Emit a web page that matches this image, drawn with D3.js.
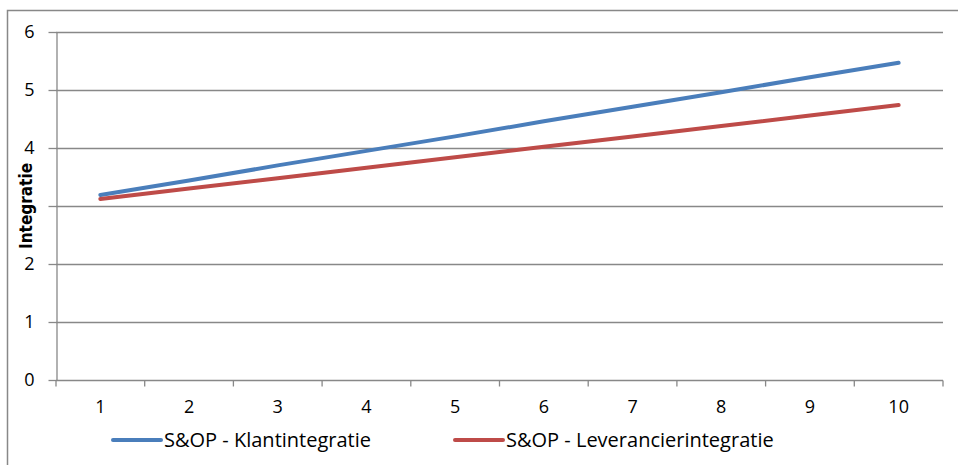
<!DOCTYPE html>
<html>
<head>
<meta charset="utf-8">
<script src="https://cdn.jsdelivr.net/npm/d3@7"></script>
<style>
  body { margin: 0; background: #fff; }
  svg { display: block; }
</style>
</head>
<body>
<div id="chart"></div>
<script>
// chart data
const categories = ['1', '2', '3', '4', '5', '6', '7', '8', '9', '10'];
const klantValues = [3.19, 3.44, 3.70, 3.95, 4.20, 4.46, 4.71, 4.96, 5.22, 5.47];
const leverancierValues = [3.12, 3.30, 3.48, 3.66, 3.84, 4.02, 4.20, 4.38, 4.56, 4.74];
const yTicks = [0, 1, 2, 3, 4, 5, 6];
const seriesNames = ['S&OP - Klantintegratie', 'S&OP - Leverancierintegratie'];
const yLabel = 'Integratie';

const width = 958, height = 465;
const margin = {left: 56, right: 15, top: 32, bottom: 85};
const gridColor = '#888888';
const colors = ['#4a7ebb', '#be4b48'];
const font = "'Open Sans', 'Liberation Sans', sans-serif";

const svg = d3.select('#chart').append('svg')
  .attr('width', width).attr('height', height);

// outer chart border
svg.append('rect')
  .attr('x', 7.5).attr('y', 10.5)
  .attr('width', 1000).attr('height', 1000)
  .attr('fill', 'none').attr('stroke', gridColor).attr('stroke-width', 1.5);

const x = d3.scaleBand().domain(categories)
  .range([margin.left, width - margin.right]);
const y = d3.scaleLinear().domain([0, 6])
  .range([height - margin.bottom, margin.top]);

// horizontal gridlines
svg.append('g')
  .selectAll('line')
  .data(yTicks.filter(d => d > 0))
  .join('line')
  .attr('x1', margin.left).attr('x2', width - margin.right)
  .attr('y1', d => Math.round(y(d)) + 0.5).attr('y2', d => Math.round(y(d)) + 0.5)
  .attr('stroke', gridColor).attr('stroke-width', 1.3);

// y axis
const yAxis = svg.append('g')
  .attr('transform', `translate(${margin.left + 0.5},0)`)
  .call(d3.axisLeft(y).tickValues(yTicks).tickFormat(d3.format('d'))
    .tickSize(8).tickPadding(14).tickSizeOuter(0));
yAxis.select('.domain').attr('stroke', gridColor).attr('stroke-width', 1.3);
yAxis.selectAll('.tick line').attr('stroke', gridColor).attr('stroke-width', 1.3);
yAxis.selectAll('.tick text')
  .attr('font-family', font).attr('font-size', 18).attr('fill', '#000');

// x axis with ticks at band boundaries
const xAxisG = svg.append('g')
  .attr('transform', `translate(0,${Math.round(y(0)) + 0.5})`);
xAxisG.append('line')
  .attr('x1', margin.left).attr('x2', width - margin.right)
  .attr('stroke', gridColor).attr('stroke-width', 1.3);
const bounds = categories.map(c => x(c)).concat([x(categories[categories.length - 1]) + x.bandwidth()]);
xAxisG.selectAll('line.tk')
  .data(bounds)
  .join('line').attr('class', 'tk')
  .attr('x1', d => d).attr('x2', d => d)
  .attr('y1', 0).attr('y2', 6)
  .attr('stroke', gridColor).attr('stroke-width', 1.3);
xAxisG.selectAll('text')
  .data(categories)
  .join('text')
  .attr('x', d => x(d) + x.bandwidth() / 2)
  .attr('y', 32)
  .attr('text-anchor', 'middle')
  .attr('font-family', font).attr('font-size', 18)
  .text(d => d);

// y axis title, on a white box that hides the "3" label like the original
const title = svg.append('g')
  .attr('transform', `translate(32,${y(3)}) rotate(-90)`);
const titleText = title.append('text')
  .attr('text-anchor', 'middle')
  .attr('font-family', "'Liberation Sans Narrow', 'DejaVu Sans Condensed', sans-serif")
  .attr('font-weight', 'bold').attr('font-size', 17)
  .text(yLabel);
const bb = titleText.node().getBBox();
title.insert('rect', 'text')
  .attr('x', bb.x - 2).attr('y', bb.y)
  .attr('width', bb.width + 4).attr('height', bb.height)
  .attr('fill', '#fff');

// lines
const line = d3.line()
  .x((d, i) => x(categories[i]) + x.bandwidth() / 2)
  .y(d => y(d));
[klantValues, leverancierValues].forEach((vals, i) => {
  svg.append('path')
    .datum(vals)
    .attr('d', line)
    .attr('fill', 'none')
    .attr('stroke', colors[i])
    .attr('stroke-width', 4)
    .attr('stroke-linecap', 'round');
});

// legend
const legendX = [113, 455];
const legend = svg.append('g');
seriesNames.forEach((name, i) => {
  legend.append('line')
    .attr('x1', legendX[i]).attr('x2', legendX[i] + 48)
    .attr('y1', 440).attr('y2', 440)
    .attr('stroke', colors[i]).attr('stroke-width', 4)
    .attr('stroke-linecap', 'round');
  legend.append('text')
    .attr('x', legendX[i] + 51).attr('y', 447)
    .attr('font-family', font).attr('font-size', 20)
    .text(name);
});
</script>
</body>
</html>
